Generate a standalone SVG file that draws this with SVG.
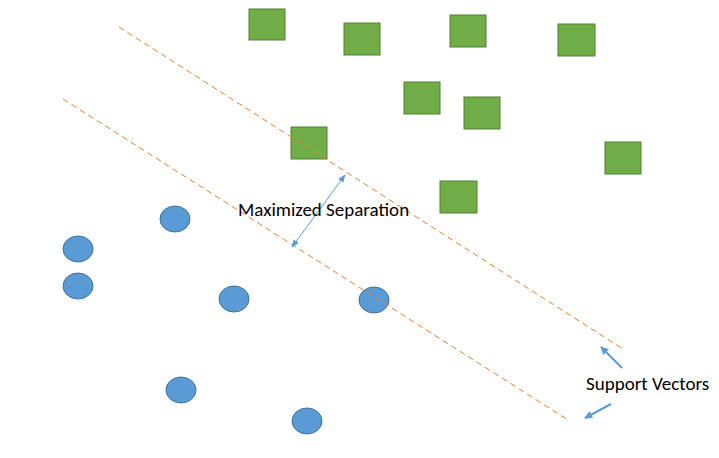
<svg xmlns="http://www.w3.org/2000/svg" width="719" height="458" viewBox="0 0 719 458">
<style>
.sq{fill:#70ad47;stroke:#507e32;stroke-width:1}
.ci{fill:#5b9bd5;stroke:#41719c;stroke-width:1}
.dash{stroke:#ed7d31;stroke-width:1;stroke-dasharray:6,4;fill:none}
.arr{stroke:#5b9bd5;stroke-width:1;fill:none}
.arr2{stroke:#5b9bd5;stroke-width:2;fill:none}
text{font-family:Calibri,Carlito,"Liberation Sans",sans-serif;font-size:19px;fill:#000}
</style>
<defs>
<marker id="ah" viewBox="0 0 10 10" refX="9" refY="5" markerWidth="8" markerHeight="8" orient="auto-start-reverse"><path d="M0,1 L10,5 L0,9 z" fill="#5b9bd5"/></marker>
<marker id="ah2" viewBox="0 0 10 10" refX="9" refY="5" markerWidth="4" markerHeight="4" orient="auto"><path d="M0,0 L10,5 L0,10 z" fill="#5b9bd5"/></marker>
</defs>
<rect width="719" height="458" fill="#fff"/>
<g id="squares">
<rect id="g1" class="sq" x="249" y="9" width="36" height="31"/>
<rect id="g2" class="sq" x="344" y="23" width="36" height="32"/>
<rect id="g3" class="sq" x="450" y="15" width="36" height="32"/>
<rect id="g4" class="sq" x="558" y="24" width="37" height="32"/>
<rect id="g5" class="sq" x="404" y="82" width="36" height="32"/>
<rect id="g6" class="sq" x="464" y="97" width="36" height="32"/>
<rect id="g7" class="sq" x="291" y="127" width="36" height="32"/>
<rect id="g8" class="sq" x="605" y="142" width="36" height="32"/>
<rect id="g9" class="sq" x="440" y="181" width="37" height="32"/>
</g>
<g id="circles">
<ellipse id="b1" class="ci" cx="175" cy="219" rx="15" ry="13"/>
<ellipse id="b2" class="ci" cx="78" cy="249" rx="15" ry="13"/>
<ellipse id="b3" class="ci" cx="78" cy="286" rx="15" ry="13"/>
<ellipse id="b4" class="ci" cx="234" cy="299" rx="15" ry="13"/>
<ellipse id="b5" class="ci" cx="374" cy="300" rx="15" ry="13"/>
<ellipse id="b6" class="ci" cx="181" cy="390" rx="15" ry="13"/>
<ellipse id="b7" class="ci" cx="307" cy="421" rx="15" ry="13"/>
</g>
<g id="connectors">
<line class="dash" x1="119" y1="27" x2="623" y2="349"/>
<line class="dash" x1="63" y1="99" x2="568" y2="420"/>
<line class="arr" x1="292" y1="247" x2="345" y2="175" marker-start="url(#ah)" marker-end="url(#ah)"/>
<line class="arr2" x1="622" y1="368" x2="601" y2="347" marker-end="url(#ah2)"/>
<line class="arr2" x1="611" y1="404" x2="585" y2="418" marker-end="url(#ah2)"/>
</g>
<text x="238" y="216">Maximized Separation</text>
<text x="586" y="390">Support Vectors</text>
</svg>
